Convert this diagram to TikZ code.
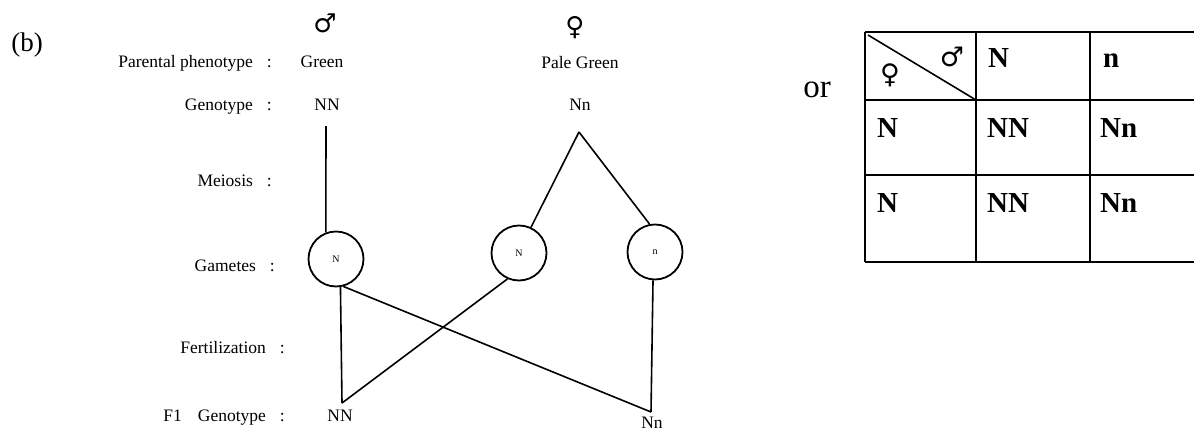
\documentclass[tikz,border=0pt]{standalone}
\usepackage{fontspec}
\setmainfont{Liberation Serif}
\newfontfamily\symfont{DejaVu Sans}
\begin{document}
\begin{tikzpicture}[x=1pt,y=-1pt,
  lbl/.style={inner sep=0pt, anchor=base east, font=\fontsize{17.5}{17.5}\selectfont},
  val/.style={inner sep=0pt, anchor=base, font=\fontsize{17.5}{17.5}\selectfont},
  sym/.style={inner sep=0pt, font=\symfont\fontsize{26}{26}\selectfont},
  gam/.style={circle, draw, line width=1.8pt, minimum size=55pt, inner sep=0pt, font=\fontsize{10}{10}\selectfont},
  link/.style={line width=1.6pt},
  cell/.style={inner sep=0pt, anchor=base west, font=\bfseries\fontsize{29}{29}\selectfont},
  grid/.style={line width=2.4pt}
]
\useasboundingbox (0,0) rectangle (1194,434);
% headings
\node[inner sep=0pt, anchor=base, font=\fontsize{27}{27}\selectfont] (b) at (27,51) {(b)};
\node[lbl] (lp) at (272,67) {Parental phenotype\hspace{14pt}:};
\node[lbl] (lg) at (272,110) {Genotype\hspace{14pt}:};
\node[lbl] (lm) at (272,186) {Meiosis\hspace{14pt}:};
\node[lbl] (lga) at (275,271) {Gametes\hspace{14pt}:};
\node[lbl] (lf) at (285,353) {Fertilization\hspace{14pt}:};
\node[lbl] (lf1) at (285,421) {F1\hspace{16pt}Genotype\hspace{14pt}:};
% parents
\node[sym] (male) at (325,23) {♂};
\node[sym] (female) at (575,28) {♀};
\node[val] (green) at (322,67) {Green};
\node[val] (pale) at (580,68) {Pale Green};
\node[val] (pNN) at (327,110) {NN};
\node[val] (pNn) at (580,110) {Nn};
\coordinate (top1) at (326,126);
\coordinate (apex) at (579,132);
% gametes
\node[gam] (g1) at (336,259) {N};
\node[gam] (g2) at (519,253) {N};
\node[gam] (g3) at (655,252) {n};
% F1
\node[val] (fNN) at (340,421) {NN};
\node[val] (fNn) at (652,428) {Nn};
\coordinate (jNN) at (342,403);
\coordinate (jNn) at (651,412);
% connectors
\draw[link] (top1) -- (g1.111);
\draw[link] (apex) -- (g2.65);
\draw[link] (apex) -- (g3.101);
\draw[link] (g1.-81) -- (jNN);
\draw[link] (g2.-114) -- (jNN);
\draw[link] (g1.-75) -- (jNn);
\draw[link] (g3.-94) -- (jNn);
% or
\node[inner sep=0pt, anchor=base, font=\fontsize{33}{33}\selectfont] (or) at (817,97) {or};
% Punnett square
\draw[grid] (865,32) -- (1194,32);
\draw[grid] (865,100) -- (1194,100);
\draw[grid] (865,175) -- (1194,175);
\draw[grid] (865,262) -- (1194,262);
\draw[grid] (865,32) -- (865,262);
\draw[grid] (976,32) -- (976,262);
\draw[grid] (1090,32) -- (1090,262);
\draw[line width=1.6pt] (868,35) -- (976,100);
\node[sym, font=\symfont\fontsize{27}{27}\selectfont] (tmale) at (952,57) {♂};
\node[sym, font=\symfont\fontsize{27}{27}\selectfont] (tfemale) at (890,75) {♀};
\node[cell] (c12) at (988,67) {N};
\node[cell] (c13) at (1103,67) {n};
\node[cell] (c21) at (877,137) {N};
\node[cell] (c22) at (987,137) {NN};
\node[cell] (c23) at (1100,137) {Nn};
\node[cell] (c31) at (877,212) {N};
\node[cell] (c32) at (987,212) {NN};
\node[cell] (c33) at (1100,212) {Nn};
\end{tikzpicture}
\end{document}
